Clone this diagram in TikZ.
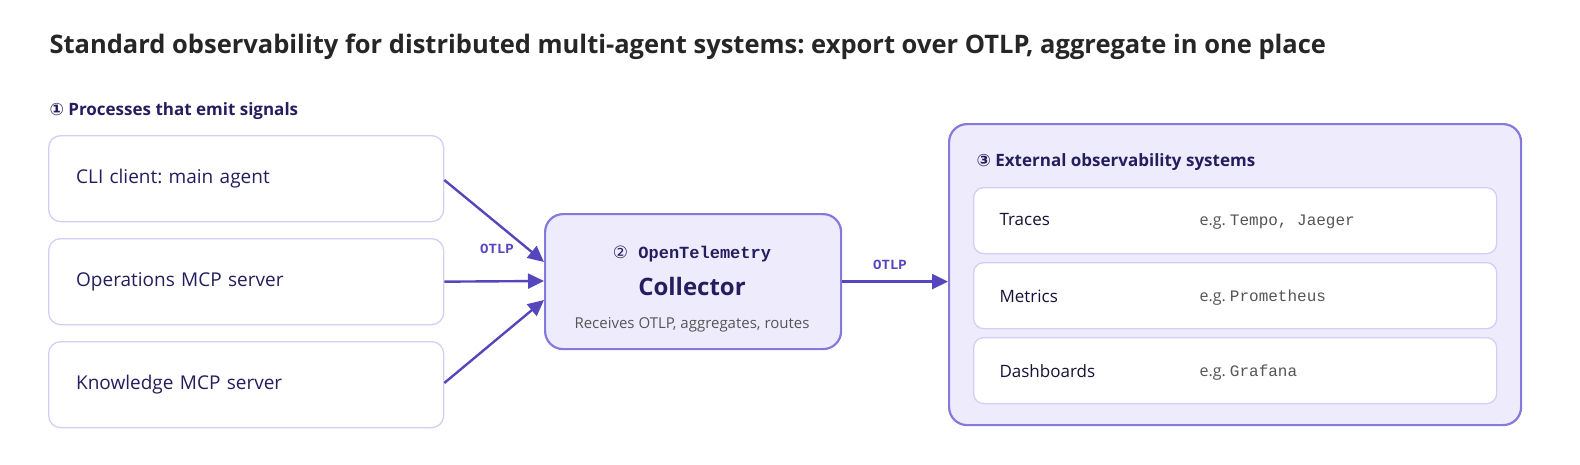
\documentclass[tikz,border=0pt]{standalone}
\usepackage{fontspec}
\setmainfont{Open Sans}
\newfontfamily\mono{Liberation Mono}
\newfontfamily\sym{DejaVu Sans}
\frenchspacing
\usetikzlibrary{arrows.meta}
\definecolor{navy}{HTML}{241E5E}
\definecolor{arr}{HTML}{5646BE}
\definecolor{lbord}{HTML}{D3CEF6}
\definecolor{cbord}{HTML}{8479DC}
\definecolor{cfill}{HTML}{EEECFC}
\definecolor{gtxt}{HTML}{555555}
\tikzset{
 src/.style={draw=lbord,line width=1.3pt,fill=white,rounded corners=12pt,minimum width=395pt,minimum height=86pt,anchor=north west,text=navy,font=\fontsize{19}{22}\selectfont,align=left,text width=340pt,inner xsep=24pt},
 row/.style={draw=lbord,line width=1.3pt,fill=white,rounded corners=10pt,minimum width=523pt,minimum height=66pt,anchor=north west},
 big/.style={draw=cbord,line width=2.2pt,fill=cfill,rounded corners=18pt},
 flow/.style={draw=arr,line width=2.4pt,-{Triangle[length=16pt,width=15pt]}},
 otlp/.style={text=arr,font=\mono\bfseries\fontsize{14}{16}\selectfont},
 rowlab/.style={anchor=west,text=navy!60!black,font=\fontsize{17}{20}\selectfont},
 eg/.style={anchor=west,text=gtxt,font=\fontsize{16}{20}\selectfont},
}
\begin{document}
\begin{tikzpicture}[x=1pt,y=-1pt]
\useasboundingbox (0,0) rectangle (1580,464);
\node[anchor=west,text=black!85,font=\fontsize{25.5}{30}\selectfont\bfseries] (title) at (46,47) {Standard observability for distributed multi-agent systems: export over OTLP, aggregate in one place};
\node[anchor=west,text=navy,font=\fontsize{17}{20}\selectfont\bfseries] (s1) at (46,111) {{\sym ①} Processes that emit signals};
\node[src] (a) at (48,135) {CLI client: main agent};
\node[src] (b) at (48,238) {Operations MCP server};
\node[src] (c) at (48,341) {Knowledge MCP server};
\node[big,minimum width=296pt,minimum height=135pt,anchor=north west] (col) at (544,213) {};
\node[text=navy,font=\mono\bfseries\fontsize{17}{20}\selectfont] (c1) at (692,254) {{\sym\mdseries ②} OpenTelemetry};
\node[text=navy,font=\fontsize{24}{28}\selectfont\bfseries] (c2) at (692,286) {Collector};
\node[text=gtxt,font=\fontsize{15}{18}\selectfont] (c3) at (692,325) {Receives OTLP, aggregates, routes};
\node[big,minimum width=572pt,minimum height=301pt,anchor=north west] (ext) at (948,123) {};
\node[anchor=west,text=navy,font=\fontsize{17}{20}\selectfont\bfseries] (s3) at (973,162) {{\sym ③} External observability systems};
\node[row] (r1) at (973,187) {};
\node[row] (r2) at (973,262) {};
\node[row] (r3) at (973,337) {};
\node[rowlab] (t1) at (996,220) {Traces};
\node[rowlab] (t2) at (996,296) {Metrics};
\node[rowlab] (t3) at (996,371) {Dashboards};
\node[eg] (e1) at (1196,222) {e.g.\ {\mono Tempo, Jaeger}};
\node[eg] (e2) at (1196,298) {e.g.\ {\mono Prometheus}};
\node[eg] (e3) at (1196,373) {e.g.\ {\mono Grafana}};
\coordinate (ia) at (544,262);
\coordinate (ib) at (544,281);
\coordinate (ic) at (544,300);
\draw[flow] (a.east |- 0,180) -- (ia);
\draw[flow] (b.east) -- (ib);
\draw[flow] (c.east |- 0,383) -- (ic);
\draw[flow] (col.east) -- (ext.west |- col.east);
\node[otlp] (l1) at (497,249) {OTLP};
\node[otlp] (l2) at (890,265) {OTLP};
\end{tikzpicture}
\end{document}
